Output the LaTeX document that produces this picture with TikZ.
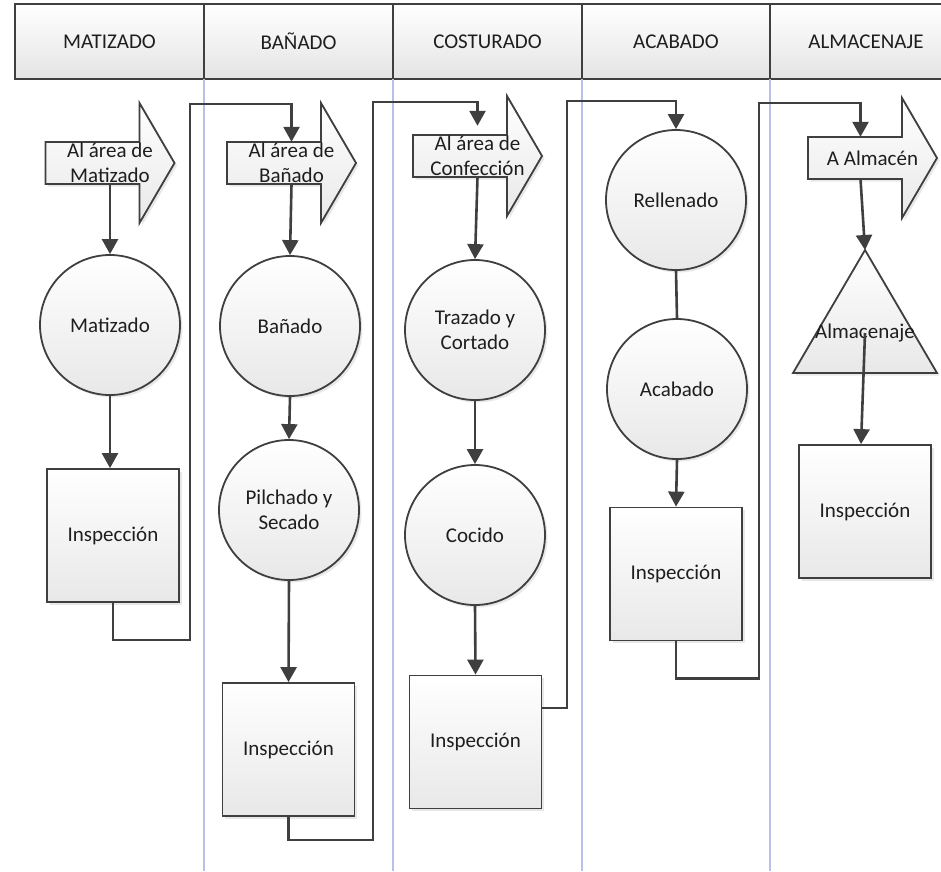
\documentclass[tikz,border=0pt]{standalone}
\usepackage{fontspec}
\setmainfont{Carlito}
\usetikzlibrary{arrows.meta,shadows,calc}

\definecolor{ink}{HTML}{3F3F3F}
\definecolor{txt}{HTML}{1E1E1E}
\definecolor{lane}{HTML}{B8C2E8}
\definecolor{shadeend}{HTML}{E8E8E8}
\definecolor{headend}{HTML}{E4E4E4}

\newcommand\diagfont{\fontsize{21}{25}\selectfont}

\tikzset{
  shapefill/.style={draw=ink, line width=1.8pt, top color=white, bottom color=shadeend,
    drop shadow={opacity=0.18, shadow xshift=2.5pt, shadow yshift=-2.5pt}},
  opbox/.style={shapefill, rectangle, minimum width=132pt, minimum height=133pt,
    inner sep=0pt, font=\diagfont, text=txt},
  opcircle/.style={shapefill, circle, minimum size=140pt, inner sep=0pt,
    align=center, font=\diagfont, text=txt},
  arrtext/.style={rectangle, minimum width=129pt, minimum height=42pt, inner sep=0pt,
    align=center, font=\diagfont, text=txt},
  headcell/.style={draw=ink, line width=1.8pt, top color=white, bottom color=headend,
    minimum height=75pt, inner sep=0pt, font=\diagfont, text=txt},
  flow/.style={draw=ink, line width=2.6pt, -{Triangle[width=16pt,length=15pt]}},
  plainflow/.style={draw=ink, line width=2.6pt},
  laneline/.style={draw=lane, line width=1.5pt},
}

% block arrow: name, centre x, centre y, text
\newcommand\flowarrow[4]{%
  \path[shapefill] (#2-64.5,#3-21) -- (#2+29.5,#3-21) -- (#2+29.5,#3-60)
    -- (#2+64.5,#3) -- (#2+29.5,#3+60) -- (#2+29.5,#3+21) -- (#2-64.5,#3+21) -- cycle;
  \node[arrtext] (#1) at (#2,#3) {#4};}

\begin{document}
\begin{tikzpicture}[x=1pt, y=-1pt]
\useasboundingbox (0,0) rectangle (941,871);

% swimlane headers
\node[headcell, minimum width=189pt] (h1) at (109.5,41.5) {MATIZADO};
\node[headcell, minimum width=189pt] (h2) at (298.5,41.5) {BAÑADO};
\node[headcell, minimum width=189pt] (h3) at (487.5,41.5) {COSTURADO};
\node[headcell, minimum width=188pt] (h4) at (676,41.5) {ACABADO};
\node[headcell, minimum width=192pt] (h5) at (866,41.5) {ALMACENAJE};

% lane separators
\foreach \lx in {204,393,582,770}
  \draw[laneline] (\lx,79) -- (\lx,871);

% lane 1
\flowarrow{arr1}{110}{163}{Al área de\\Matizado}
\node[opcircle] (c11) at (110,325) {Matizado};
\node[opbox] (b1) at (113,535.5) {Inspección};

% lane 2
\flowarrow{arr2}{291.5}{163}{Al área de\\Bañado}
\node[opcircle] (c21) at (290,326) {Bañado};
\node[opcircle] (c22) at (289,510) {Pilchado y\\Secado};
\node[opbox] (b2) at (288.5,749.5) {Inspección};

% lane 3
\flowarrow{arr3}{477.5}{156}{Al área de\\Confección}
\node[opcircle] (c31) at (475,330) {Trazado y\\Cortado};
\node[opcircle] (c32) at (475,535) {Cocido};
\node[opbox] (b3) at (475.5,742) {Inspección};

% lane 4
\node[opcircle] (c41) at (676,200) {Rellenado};
\node[opcircle] (c42) at (677,389) {Acabado};
\node[opbox] (b4) at (676,574) {Inspección};

% lane 5
\flowarrow{arr5}{872.5}{158}{A Almacén}
\path[shapefill] (865,250) -- (937,373) -- (793,373) -- cycle;
\coordinate (tritop) at (865,250);
\node[font=\diagfont, text=txt, inner sep=0pt] (alm) at (865,333) {Almacenaje};
\node[opbox] (b5) at (865,511.5) {Inspección};

% connectors
\draw[flow] (arr1.south) -- (c11.north);
\draw[flow] (c11.south) -- (c11.south |- b1.north);
\draw[flow] (b1.south) -- ++(0,37) -| (190,104) -| (arr2.north);

\draw[flow] (arr2.south) -- (c21.north);
\draw[flow] (c21.south) -- (c22.north);
\draw[flow] (c22.south) -- (b2.north);
\draw[flow, shorten >=9pt] (b2.south) -- ++(0,23) -| (373,102) -| (arr3.north);

\draw[flow] (arr3.south) -- (c31.north);
\draw[flow] (c31.south) -- (c32.north);
\draw[flow] (c32.south) -- (b3.north);
\draw[flow] ([yshift=34pt]b3.east) -| (567,101) -| (c41.north);

\draw[plainflow] (c41.south) -- (c42.north);
\draw[flow] (c42.south) -- (b4.north);
\draw[flow] (b4.south) -- ++(0,37) -| (759,103) -| ([xshift=-12pt]arr5.north);

\draw[flow] ([xshift=-12pt]arr5.south) -- (tritop);
\draw[flow] (alm.center) -- ([xshift=-4pt]b5.north);
\end{tikzpicture}
\end{document}
